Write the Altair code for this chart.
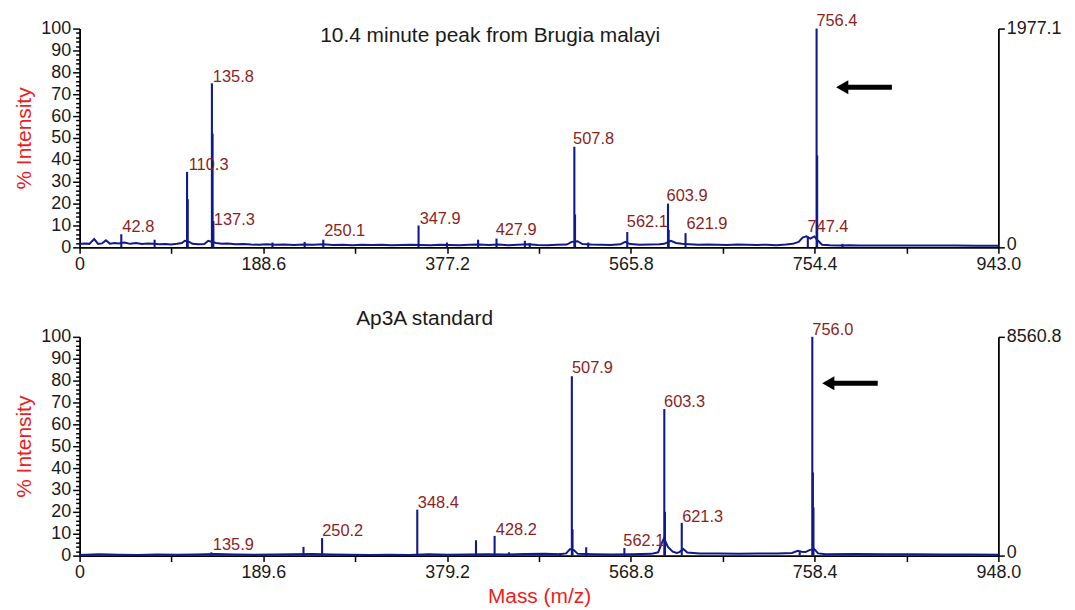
import altair as alt
import pandas as pd

FONT = "Liberation Sans"
BLUE = "#101a8c"
LABEL_RED = "#8b1f1f"
AXIS_RED = "#ee1c1c"

# ---------------- top panel data ----------------
top_title = "10.4 minute peak from Brugia malayi"
top_xmax = 943.0
top_rmax = 1977.1
top_ticks = [0, 94.3, 188.6, 282.9, 377.2, 471.5, 565.8, 660.1, 754.4, 848.7, 943.0]
top_majors = [0, 188.6, 377.2, 565.8, 754.4, 943.0]

top_base_mz = [0, 5, 10, 15, 19, 23, 27, 31, 36, 40,
               46, 52, 58, 64, 70, 76, 82, 88, 94, 100,
               105, 108, 112, 116, 122, 128, 132, 140, 146, 152,
               160, 168, 176, 184, 192, 200, 210, 220, 230, 240,
               250, 260, 270, 280, 290, 300, 310, 320, 330, 340,
               350, 360, 370, 380, 390, 400, 410, 420, 430, 440,
               450, 460, 470, 480, 490, 500, 505, 511, 516, 525,
               535, 545, 555, 560, 565, 575, 585, 595, 600, 607,
               612, 618, 626, 635, 645, 655, 665, 675, 685, 695,
               705, 715, 725, 732, 738, 742, 746, 750, 754, 758,
               762, 770, 780, 790, 800, 820, 840, 860, 880, 900,
               920, 943]
top_base_int = [1.5, 1.8, 1.6, 3.8, 1.6, 1.8, 3.2, 1.7, 2.0, 1.8,
                2.2, 1.6, 2.0, 1.5, 1.8, 1.6, 1.4, 1.5, 1.3, 1.6,
                2.0, 3.0, 2.6, 1.6, 1.4, 1.5, 3.0, 2.0, 1.6, 1.8,
                1.4, 1.5, 1.3, 1.2, 1.4, 1.2, 1.3, 1.1, 1.3, 1.2,
                1.4, 1.1, 1.2, 1.0, 1.2, 1.1, 1.2, 1.0, 1.1, 1.2,
                1.1, 1.0, 1.2, 1.1, 1.0, 1.2, 1.3, 1.1, 1.3, 1.0,
                1.2, 1.4, 1.1, 1.0, 1.2, 1.3, 2.5, 2.8, 1.5, 1.3,
                1.2, 1.1, 1.4, 2.5, 1.5, 1.2, 1.3, 1.4, 1.6, 3.0,
                2.0, 1.6, 1.4, 1.2, 1.3, 1.2, 1.1, 1.3, 1.2, 1.1,
                1.2, 1.0, 1.3, 1.6, 2.5, 4.5, 5.0, 4.0, 5.0, 3.0,
                1.2, 1.0, 0.9, 1.0, 0.8, 0.9, 0.8, 0.9, 0.8, 0.8,
                0.7, 0.7]

top_peak_mz = [42.8, 77, 110.3, 111.0, 135.8, 136.5, 137.3, 198, 231, 250.1,
               347.9, 377, 409, 427.9, 457, 462, 507.8, 508.5, 522, 562.1,
               603.9, 604.6, 621.9, 747.4, 756.4, 757.0, 783]
top_peak_int = [6, 3.5, 34.5, 22, 75, 52, 12, 2.2, 2.5, 3.5,
                10, 2.2, 3.5, 4, 3, 2, 46, 15, 2.2, 7,
                20, 8, 6.5, 5, 100, 42, 1.6]

top_labels = ["42.8", "110.3", "135.8", "137.3", "250.1", "347.9", "427.9",
              "507.8", "562.1", "603.9", "621.9", "747.4", "756.4"]
top_label_x = [43.9, 112, 136.7, 137.8, 251, 349, 427, 506.5, 561.6, 602.4, 622.8, 747, 756.2]
top_label_y = [9.5, 37.7, 78, 12.3, 7.3, 13, 7.7, 49.5, 11.4, 23.6, 10.5, 9.5, 103.6]

top_title_x, top_title_y = 421.4, 96.4
top_arrow = {"head": [782.7], "tail": [833.7], "y": [73.2]}

# ---------------- bottom panel data ----------------
bot_title = "Ap3A standard"
bot_xmax = 948.0
bot_rmax = 8560.8
bot_ticks = [0, 94.8, 189.6, 284.4, 379.2, 474.0, 568.8, 663.6, 758.4, 853.2, 948.0]
bot_majors = [0, 189.6, 379.2, 568.8, 758.4, 948.0]

bot_base_mz = [0, 20, 40, 60, 80, 100, 120, 140, 160, 180,
               200, 220, 240, 260, 280, 300, 320, 340, 360, 380,
               400, 420, 440, 460, 480, 495, 502, 506, 510, 514,
               530, 550, 570, 590, 597, 600, 603, 607, 612, 616,
               619, 623, 627, 640, 660, 680, 700, 720, 735, 741,
               745, 749, 753, 758, 762, 770, 800, 830, 860, 890,
               920, 948]
bot_base_int = [0.3, 0.6, 0.4, 0.3, 0.5, 0.4, 0.5, 0.7, 0.5, 0.4,
                0.5, 0.6, 0.7, 0.5, 0.4, 0.3, 0.4, 0.3, 0.6, 0.4,
                0.5, 0.6, 0.5, 0.7, 0.8, 0.6, 1.0, 3.0, 2.5, 0.8,
                0.6, 0.5, 0.6, 0.8, 1.5, 5.0, 8.0, 4.0, 1.8, 1.2,
                1.6, 3.0, 1.4, 1.0, 1.0, 0.9, 1.0, 1.0, 1.2, 2.2,
                1.8, 1.6, 2.5, 3.0, 1.0, 0.6, 0.7, 0.6, 0.6, 0.5,
                0.5, 0.4]

bot_peak_mz = [135.9, 231, 250.2, 348.4, 409, 428.2, 443, 496, 507.9, 508.6,
               522.7, 562.1, 603.3, 604.0, 621.3, 743, 756.0, 756.6, 757.2]
bot_peak_int = [1.5, 4, 8, 21, 7, 9, 1.5, 1.2, 82, 12,
                3.8, 3.5, 67, 20, 15, 2.0, 100, 38, 22]

bot_labels = ["135.9", "250.2", "348.4", "428.2", "507.9", "562.1", "603.3", "621.3", "756.0"]
bot_label_x = [137.5, 250.3, 349, 429.5, 508, 561, 603, 621.7, 756]
bot_label_y = [4.8, 11.3, 24.2, 11.6, 85.6, 6.5, 70, 17.7, 103]

bot_title_x, bot_title_y = 356, 108
bot_arrow = {"head": [772.5], "tail": [823.5], "y": [78.8]}


def x_enc(field, xmax, ticks, majors, title):
    test = f"indexof({majors}, datum.value) >= 0"
    kw = dict(
        values=ticks,
        labelExpr=f"{test} ? (datum.value == 0 ? '0' : format(datum.value, '.1f')) : ''",
        labelFlush=False,
        labelOverlap=False,
        tickSize=6,
        labelPadding=2,
        grid=False,
    )
    if title:
        kw.update(title=title, titleColor=AXIS_RED, titleFontSize=21,
                  titleFontWeight="normal", titlePadding=4)
    else:
        kw.update(title=None)
    return alt.X(field, type="quantitative",
                 scale=alt.Scale(domain=[0, xmax], nice=False, zero=True),
                 axis=alt.Axis(**kw))


def y_enc(field):
    return alt.Y(field, type="quantitative",
                 scale=alt.Scale(domain=[0, 100], nice=False),
                 axis=alt.Axis(values=list(range(0, 101, 2)),
                               labelExpr="datum.value % 10 === 0 ? datum.label : ''",
                               tickSize={"condition": {"test": "datum.value % 10 === 0", "value": 7}, "value": 4},
                               labelOverlap=False, labelFlush=False, labelPadding=2,
                               title="% Intensity", titleColor=AXIS_RED, titleFontSize=21,
                               titleFontWeight="normal", titlePadding=6, grid=False))


def panel(base_mz, base_int, peak_mz, peak_int, labels, lx, ly, title, tx, ty,
          arrow, xmax, ticks, majors, rmax, xtitle):
    xe = lambda f: x_enc(f, xmax, ticks, majors, xtitle)
    base_df = pd.DataFrame({"mz": base_mz, "inten": base_int})
    peak_df = pd.DataFrame({"pmz": peak_mz, "pint": peak_int})
    lab_df = pd.DataFrame({"lab": labels, "lx": lx, "ly": ly})
    title_df = pd.DataFrame({"t": [title], "tx": [tx], "ty": [ty]})
    arrow_df = pd.DataFrame(arrow)

    base = alt.Chart(base_df).mark_line(color=BLUE, strokeWidth=2).encode(
        x=xe("mz"), y=y_enc("inten"))
    peaks = alt.Chart(peak_df).mark_rule(color=BLUE, strokeWidth=2.1).encode(
        x=xe("pmz"), y=y_enc("pint"), y2=alt.datum(0))
    labs = alt.Chart(lab_df).mark_text(
        align="left", baseline="middle", color=LABEL_RED, fontSize=16.5, font=FONT
    ).encode(x=xe("lx"), y=y_enc("ly"), text="lab:N")
    ttl = alt.Chart(title_df).mark_text(
        align="center", baseline="middle", color="#1a1a1a", fontSize=21, font=FONT
    ).encode(x=xe("tx"), y=y_enc("ty"), text="t:N")
    arr = alt.Chart(arrow_df).mark_rule(color="black", strokeWidth=5).encode(
        x=xe("head"), x2=alt.X2("tail"), y=y_enc("y"))
    head = alt.Chart(arrow_df).mark_point(
        shape="triangle-left", filled=True, color="black", size=200, opacity=1
    ).encode(x=xe("head"), y=y_enc("y"))

    inner = alt.layer(base, peaks, labs, ttl, arr, head)

    right = alt.Chart(pd.DataFrame({"r": [0, rmax]})).mark_point(opacity=0).encode(
        y=alt.Y("r:Q", scale=alt.Scale(domain=[0, rmax], nice=False),
                axis=alt.Axis(orient="right", values=[0, rmax],
                              labelExpr="datum.value == 0 ? '0' : format(datum.value, '.1f')",
                              labelOffset={"condition": {"test": "datum.value == 0", "value": -3}, "value": 0},
                              title=None, tickSize=6, labelPadding=2, grid=False,
                              labelFlush=False, labelOverlap=False)))
    return alt.layer(inner, right).resolve_scale(y="independent").properties(width=924, height=220)


top = panel(top_base_mz, top_base_int, top_peak_mz, top_peak_int, top_labels,
            top_label_x, top_label_y, top_title, top_title_x, top_title_y,
            top_arrow, top_xmax, top_ticks, top_majors, top_rmax, None)
bottom = panel(bot_base_mz, bot_base_int, bot_peak_mz, bot_peak_int, bot_labels,
               bot_label_x, bot_label_y, bot_title, bot_title_x, bot_title_y,
               bot_arrow, bot_xmax, bot_ticks, bot_majors, bot_rmax, "Mass (m/z)")

chart = alt.vconcat(top, bottom, spacing=35).properties(
    padding={"top": 3, "left": 5, "right": 5, "bottom": 2}
).configure_view(stroke=None).configure_axis(
    labelFont=FONT, titleFont=FONT, labelFontSize=18, labelColor="#1a1a1a",
    domainColor="black", tickColor="black", domainWidth=1.8, tickWidth=1.5,
)

chart.save("out.html", embed_options={"renderer": "svg", "actions": False})
